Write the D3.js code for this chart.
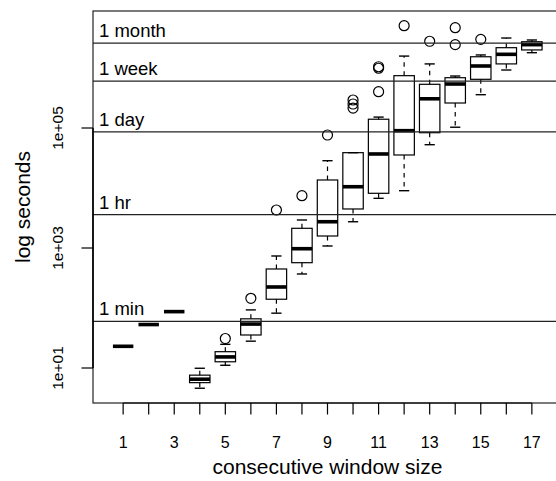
<!DOCTYPE html>
<html>
<head>
<meta charset="utf-8">
<script src="https://cdn.jsdelivr.net/npm/d3@7"></script>
<style>
  body { margin: 0; background: #fff; }
  svg text { font-family: "Liberation Sans", Arial, sans-serif; fill: #000; }
</style>
</head>
<body>
<div id="chart"></div>
<script>
// Box statistics per window size (seconds)
var windowSizes = [1, 2, 3, 4, 5, 6, 7, 8, 9, 10, 11, 12, 13, 14, 15, 16, 17];
var lowWhisker  = [23, 53, 87, 4.6, 11.1, 28, 82, 369, 1080, 2740, 6730, 9020, 52700, 103000, 359000, 926000, 1800000];
var lowerQuart  = [23, 53, 87, 5.7, 12.7, 35.5, 140, 569, 1585, 4470, 8160, 35500, 83500, 261000, 648000, 1170000, 2000000];
var medians     = [23, 53, 87, 6.5, 15.3, 54, 224, 973, 2740, 10500, 36900, 90200, 307000, 541000, 1080000, 1690000, 2450000];
var upperQuart  = [23, 53, 87, 7.6, 18.7, 66, 447, 2130, 13600, 38800, 140000, 745000, 535000, 689000, 1540000, 2180000, 2740000];
var highWhisker = [23, 53, 87, 9.9, 24.8, 93, 736, 2930, 28500, 38800, 152000, 1580000, 1170000, 735000, 1650000, 3160000, 2930000];
var outliers = [
  [], [], [], [], [31], [145], [4300], [7450], [76400],
  [215000, 251000, 293000], [403000, 990000, 1050000], [5070000],
  [2790000], [2450000, 4700000], [3000000], [], []
];

// Reference durations
var refLabels  = ["1 min", "1 hr", "1 day", "1 week", "1 month"];
var refSeconds = [60, 3600, 86400, 604800, 2592000];

var xTicks = windowSizes;
var xTickLabels = [1, 3, 5, 7, 9, 11, 13, 15, 17];
var yTicks = [1e1, 1e3, 1e5];
var yTickLabels = ["1e+01", "1e+03", "1e+05"];

var W = 556, H = 481;
var plot = {left: 93, right: 562, top: 11, bottom: 403};

var x = d3.scaleLinear().domain([-0.18, 18.18]).range([plot.left, plot.right]);
var y = d3.scaleLog().domain([Math.pow(10, 0.4167), Math.pow(10, 6.95)]).range([plot.bottom, plot.top]);

var boxW = (x(1) - x(0)) * 0.8
  , capW = boxW * 0.5
  , tickLen = 11.5;

var svg = d3.select("#chart").append("svg")
  .attr("width", W)
  .attr("height", H);

var boxes = windowSizes.map(function(d, i) {
  return {
    k: d,
    lo: lowWhisker[i], q1: lowerQuart[i], med: medians[i],
    q3: upperQuart[i], hi: highWhisker[i], out: outliers[i]
  };
});

var g = svg.append("g");

// Boxes and whiskers
boxes.forEach(function(b) {
  var cx = x(b.k);
  var bg = g.append("g");
  // whiskers (dashed)
  bg.append("line")
    .attr("x1", cx).attr("x2", cx)
    .attr("y1", y(b.q3)).attr("y2", y(b.hi))
    .attr("stroke", "#000").attr("stroke-width", 1.2)
    .attr("stroke-dasharray", "4.5,4.5");
  bg.append("line")
    .attr("x1", cx).attr("x2", cx)
    .attr("y1", y(b.q1)).attr("y2", y(b.lo))
    .attr("stroke", "#000").attr("stroke-width", 1.2)
    .attr("stroke-dasharray", "4.5,4.5");
  // staples
  [b.lo, b.hi].forEach(function(v) {
    bg.append("line")
      .attr("x1", cx - capW / 2).attr("x2", cx + capW / 2)
      .attr("y1", y(v)).attr("y2", y(v))
      .attr("stroke", "#000").attr("stroke-width", 1.4);
  });
  // box
  bg.append("rect")
    .attr("x", cx - boxW / 2)
    .attr("y", y(b.q3))
    .attr("width", boxW)
    .attr("height", Math.max(0, y(b.q1) - y(b.q3)))
    .attr("fill", "none")
    .attr("stroke", "#000").attr("stroke-width", 1.2);
  // median
  bg.append("line")
    .attr("x1", cx - boxW / 2).attr("x2", cx + boxW / 2)
    .attr("y1", y(b.med)).attr("y2", y(b.med))
    .attr("stroke", "#000").attr("stroke-width", 3.6);
  // outliers
  bg.selectAll("circle")
    .data(b.out)
    .enter().append("circle")
    .attr("cx", cx)
    .attr("cy", function(v) { return y(v); })
    .attr("r", 5)
    .attr("fill", "none")
    .attr("stroke", "#000").attr("stroke-width", 1.2);
});

// Reference lines with labels
refSeconds.forEach(function(s, i) {
  svg.append("line")
    .attr("x1", plot.left).attr("x2", plot.right)
    .attr("y1", y(s)).attr("y2", y(s))
    .attr("stroke", "#222").attr("stroke-width", 1.2);
  svg.append("text")
    .attr("x", plot.left + 6)
    .attr("y", y(s) - 6)
    .style("font-size", "18.5px")
    .text(refLabels[i]);
});

// Plot frame
svg.append("rect")
  .attr("x", plot.left).attr("y", plot.top)
  .attr("width", plot.right - plot.left)
  .attr("height", plot.bottom - plot.top)
  .attr("fill", "none")
  .attr("stroke", "#222").attr("stroke-width", 1.2);

// X axis
var xAxis = svg.append("g");
xAxis.append("line")
  .attr("x1", x(xTicks[0])).attr("x2", x(xTicks[xTicks.length - 1]))
  .attr("y1", plot.bottom).attr("y2", plot.bottom)
  .attr("stroke", "#000").attr("stroke-width", 1.2);
xAxis.selectAll(".tick")
  .data(xTicks)
  .enter().append("line")
  .attr("x1", function(d) { return x(d); })
  .attr("x2", function(d) { return x(d); })
  .attr("y1", plot.bottom).attr("y2", plot.bottom + tickLen)
  .attr("stroke", "#000").attr("stroke-width", 1.2);
xAxis.selectAll("text")
  .data(xTickLabels)
  .enter().append("text")
  .attr("x", function(d) { return x(d); })
  .attr("y", 448)
  .attr("text-anchor", "middle")
  .style("font-size", "16px")
  .text(function(d) { return d; });

svg.append("text")
  .attr("x", (plot.left + plot.right) / 2)
  .attr("y", 473.5)
  .attr("text-anchor", "middle")
  .style("font-size", "21px")
  .text("consecutive window size");

// Y axis
var yAxis = svg.append("g");
yAxis.append("line")
  .attr("x1", plot.left).attr("x2", plot.left)
  .attr("y1", y(yTicks[0])).attr("y2", y(yTicks[yTicks.length - 1]))
  .attr("stroke", "#000").attr("stroke-width", 1.6);
yAxis.selectAll(".tick")
  .data(yTicks)
  .enter().append("line")
  .attr("x1", plot.left - tickLen).attr("x2", plot.left)
  .attr("y1", function(d) { return y(d); })
  .attr("y2", function(d) { return y(d); })
  .attr("stroke", "#000").attr("stroke-width", 1.2);
yAxis.selectAll("text")
  .data(yTicks)
  .enter().append("text")
  .attr("transform", function(d) { return "translate(63," + y(d) + ") rotate(-90)"; })
  .attr("text-anchor", "middle")
  .style("font-size", "15.5px")
  .text(function(d, i) { return yTickLabels[i]; });

svg.append("text")
  .attr("transform", "translate(30," + ((plot.top + plot.bottom) / 2) + ") rotate(-90)")
  .attr("text-anchor", "middle")
  .style("font-size", "21px")
  .text("log seconds");
</script>
</body>
</html>
